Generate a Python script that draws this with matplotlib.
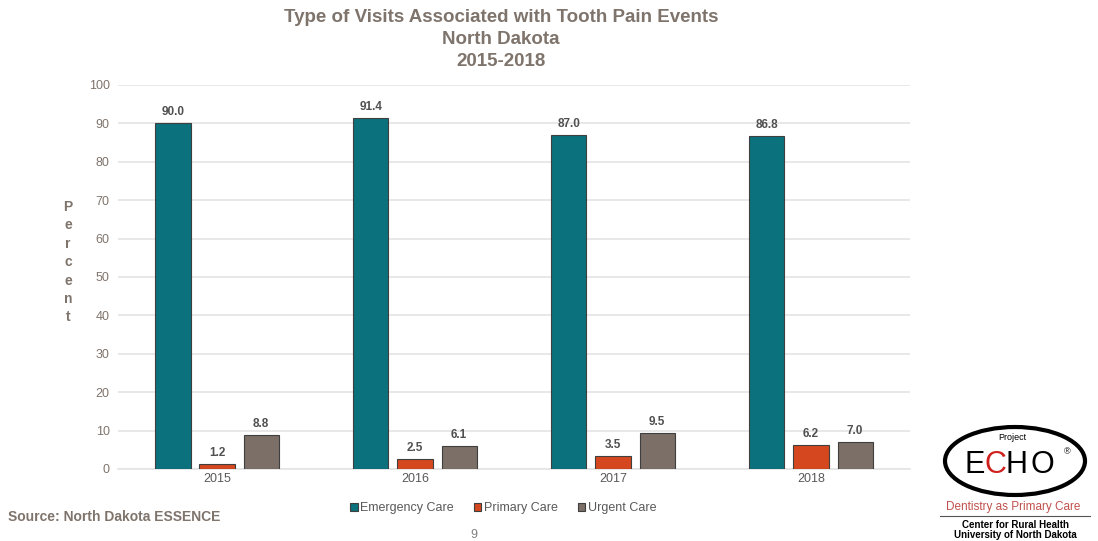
import matplotlib
matplotlib.use("Agg")
import matplotlib.pyplot as plt
from matplotlib.patches import Ellipse
import numpy as np

plt.rcParams['font.family'] = ['Liberation Sans', 'DejaVu Sans']

years = ["2015", "2016", "2017", "2018"]
series_names = ["Emergency Care", "Primary Care", "Urgent Care"]
emergency = [90.0, 91.4, 87.0, 86.8]
primary = [1.2, 2.5, 3.5, 6.2]
urgent = [8.8, 6.1, 9.5, 7.0]
colors = ["#0B717C", "#D5471F", "#7B6F67"]

TEXT = "#7F746C"

fig = plt.figure(figsize=(10.98, 5.41), dpi=100)
ax = fig.add_axes([0.1075, 0.1331, 0.7213, 0.7098])

x = np.arange(len(years))
width = 0.178
offsets = [-0.223, 0.0, 0.223]
for vals, off, c, name in zip([emergency, primary, urgent], offsets, colors, series_names):
    bars = ax.bar(x + off, vals, width, color=c, edgecolor="#3F3F3F", linewidth=0.8,
                  label=name, zorder=3)
    for b, v in zip(bars, vals):
        ax.text(b.get_x() + b.get_width() / 2, v + 1.3, f"{v:.1f}", ha="center", va="bottom",
                fontsize=8.5, fontweight="bold", color="#505050")

ax.set_xlim(-0.5, 3.5)
ax.set_ylim(0, 100)
ax.set_yticks(range(0, 101, 10))
ax.set_xticks(x)
ax.set_xticklabels(years)
ax.grid(axis="y", color="#E4E4E4", linewidth=1.2, zorder=0)
for s in ["top", "right", "left"]:
    ax.spines[s].set_visible(False)
ax.spines["bottom"].set_color("#E4E4E4")
ax.spines["bottom"].set_linewidth(1.2)
ax.tick_params(axis="both", length=0, labelsize=9, colors="#595959", pad=6)
ax.tick_params(axis="y", colors=TEXT)
ax.tick_params(axis="x", pad=3)

# Vertical stacked axis label
for i, ch in enumerate("Percent"):
    fig.text(68 / 1098, 1 - (207 + i * 18.4) / 541, ch, ha="center", va="center",
             fontsize=10, fontweight="bold", color=TEXT)

# Three-line title
for txt, yy in zip(["Type of Visits Associated with Tooth Pain Events", "North Dakota", "2015-2018"],
                   [17, 39, 61]):
    fig.text(501 / 1098, 1 - yy / 541, txt, ha="center", va="center", fontsize=13.5,
             fontweight="bold", color=TEXT)

leg = fig.legend(loc="center", bbox_to_anchor=(503 / 1098, 1 - 508 / 541), ncol=3,
                 frameon=False, fontsize=9, handlelength=0.6, handleheight=0.6,
                 handletextpad=0.2, columnspacing=1.6)
for t in leg.get_texts():
    t.set_color("#595959")

fig.text(8 / 1098, 1 - 517 / 541, "Source: North Dakota ESSENCE", ha="left", va="center",
         fontsize=10, fontweight="bold", color=TEXT)
fig.text(474 / 1098, 1 - 535 / 541, "9", ha="center", va="center", fontsize=9, color="#808080")

# Project ECHO logo
lax = fig.add_axes([920 / 1098, 0, 178 / 1098, 121 / 541])
lax.set_xlim(920, 1098)
lax.set_ylim(541, 420)
lax.axis("off")
lax.add_patch(Ellipse((1015, 461), 140, 68, fill=False, edgecolor="black", linewidth=3.0))
lax.text(1012, 438, "Project", ha="center", va="center", fontsize=6.5, color="black")
for letter, lx, lc in [("E", 975, "black"), ("C", 995.5, "#D0201E"),
                       ("H", 1017, "black"), ("O", 1042, "black")]:
    lax.text(lx, 465, letter, ha="center", va="center", fontsize=22, color=lc)
lax.text(1067, 452, "®", ha="center", va="center", fontsize=6.5, color="black")
lax.text(1013, 507, "Dentistry as Primary Care", ha="center", va="center", fontsize=8.5,
         color="#C0504D")
lax.plot([940, 1090], [516, 516], color="#555555", linewidth=0.8)
lax.text(1015, 525, "Center for Rural Health", ha="center", va="center", fontsize=7,
         fontweight="bold", color="black")
lax.text(1015, 535, "University of North Dakota", ha="center", va="center", fontsize=7,
         fontweight="bold", color="black")

fig.savefig("out.png", dpi=100)
